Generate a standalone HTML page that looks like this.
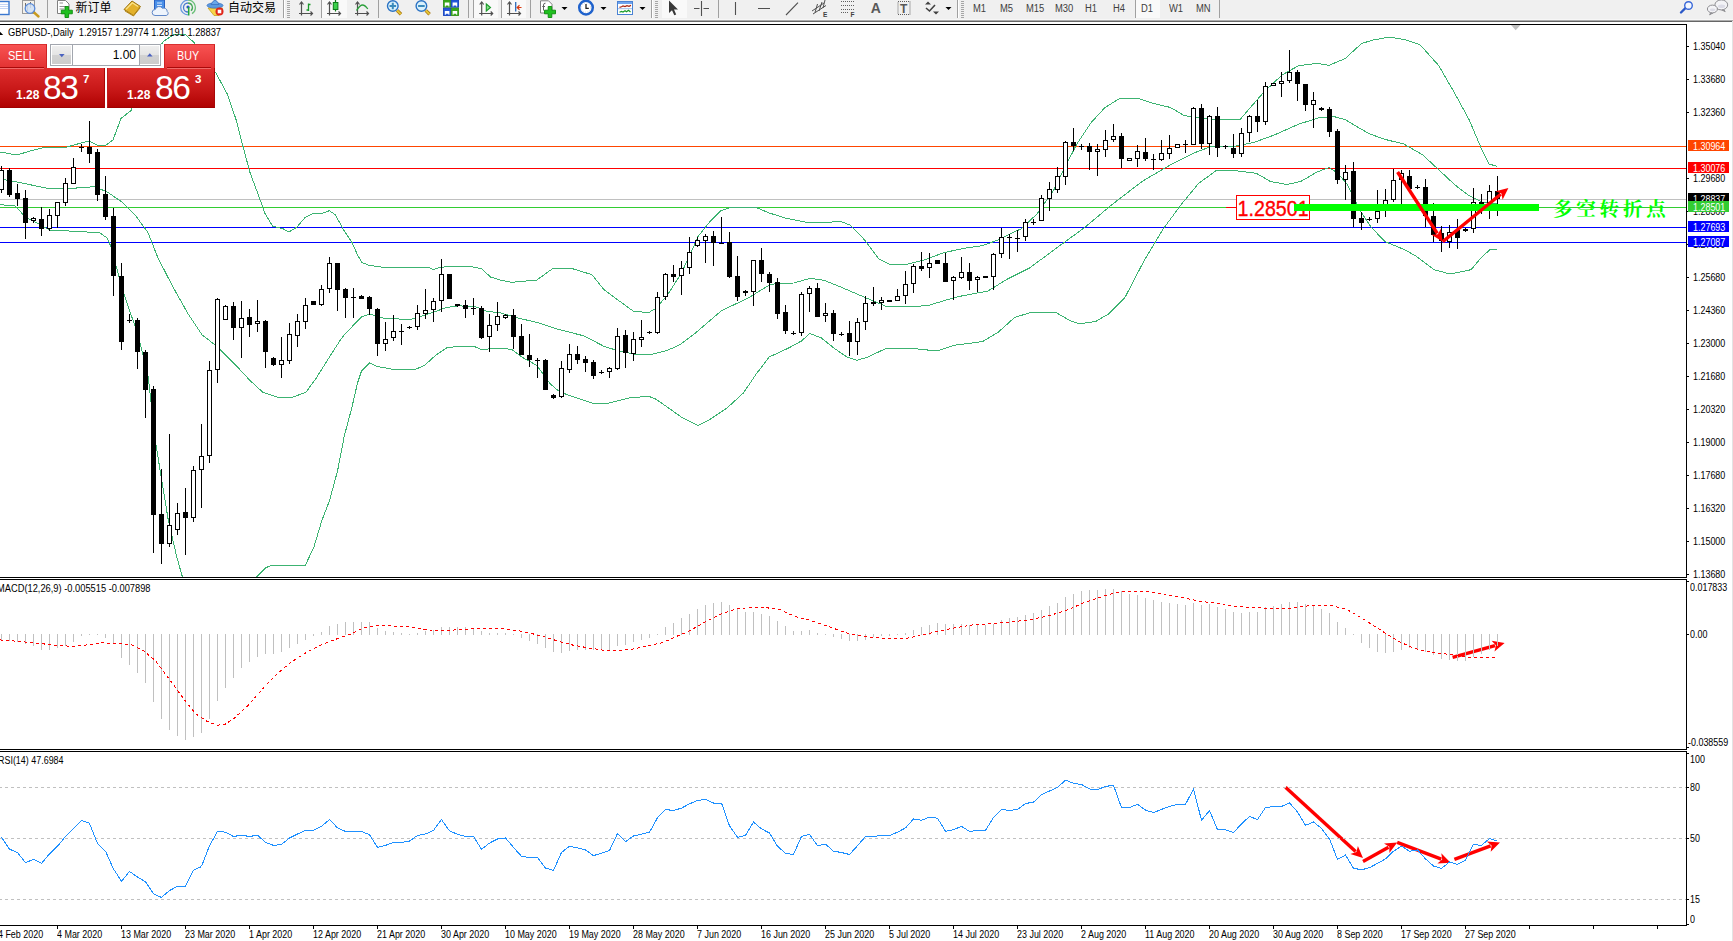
<!DOCTYPE html>
<html><head><meta charset="utf-8"><title>GBPUSD Daily</title><style>
*{box-sizing:border-box;margin:0;padding:0}
html,body{width:1733px;height:941px;overflow:hidden;background:#fff}
body{font-family:"Liberation Sans","Noto Sans CJK SC",sans-serif;}
#root{position:relative;width:1733px;height:941px;overflow:hidden;background:#fff}
.ax{position:absolute;font-size:10px;line-height:11px;height:11px;white-space:nowrap;color:#000;transform-origin:0 0;transform:scaleX(.893)}
.info{transform:scaleX(.93)}
.pb{position:absolute;left:1688px;width:41px;height:11px;color:#fff;font-size:10px;line-height:11px}
.pb span{position:absolute;left:5px;top:.6px;transform-origin:0 0;transform:scaleX(.893)}
#tb{position:absolute;left:0;top:0;width:1733px;height:22px;background:#f0f0f0}
#tb .ln0{position:absolute;left:0;top:19px;width:1733px;height:1px;background:#f7f7f7}
#tb .ln1{position:absolute;left:0;top:20px;width:1733px;height:1px;background:#adadad}
#tb .ln2{position:absolute;left:0;top:21px;width:1732px;height:1px;background:#666}
.redge{position:absolute;left:1732px;top:21px;width:1px;height:920px;background:#e3e3e3}
.cn{position:absolute;left:1553px;top:195.5px;font-family:"Liberation Serif","Noto Serif CJK SC",serif;font-weight:700;font-size:19.5px;line-height:28px;color:#00ff00;letter-spacing:3.8px;white-space:nowrap}
.lb{position:absolute;left:1236px;top:195px;width:74px;height:25px;border:1px solid #ff0000;background:#fff;color:#ff0000;font-size:21px;line-height:23px;text-align:center;letter-spacing:-0.5px;white-space:nowrap;overflow:hidden}
.lbl{position:absolute;left:1226px;top:207px;width:10px;height:1px;background:#ff0000}

#tb .t{position:absolute;top:0.5px;font-size:12px;line-height:14px;color:#000;white-space:nowrap;font-family:"Liberation Sans","Noto Sans CJK SC",sans-serif}
#tb .p{position:absolute;top:3px;font-size:10px;line-height:11px;color:#404040;white-space:nowrap;transform-origin:0 0;transform:scaleX(.94)}

#pn{position:absolute;left:0;top:44px;width:216px;height:64px}
#pn div{position:absolute}
.sb{top:0;height:24px;background:linear-gradient(#f85252,#e23232);border-top:1px solid #d83030;color:#fff;font-size:12.5px;line-height:14px}
.sb span{position:absolute;top:4px;transform-origin:0 0;white-space:nowrap}
.pp{top:24px;height:40px;background:linear-gradient(#de2e2e,#c81818 55%,#b00202);border-right:1px solid #a80808;border-bottom:1px solid #a00000;color:#fff}
.pp span{position:absolute;white-space:nowrap;line-height:1}
.pp .s{font-weight:700;font-size:12px;letter-spacing:0}
.pp .b{font-size:33.5px;letter-spacing:-1.5px}
.pp .u{font-weight:700;font-size:11.5px}
.vb{left:50px;top:0;width:111px;height:22px;background:#fff;border:1px solid #a2a6ae}
.vbtn{top:1px;width:19px;height:18px;background:linear-gradient(#efefef,#e4e4e4 50%,#d2d2d2 51%,#cdcdcd)}
.vt{right:24px;top:3px;font-size:12px;line-height:14px;color:#000}
</style></head>
<body><div id="root">
<svg id="chart" width="1733" height="941" viewBox="0 0 1733 941" style="position:absolute;left:0;top:0" shape-rendering="crispEdges">
<defs><clipPath id="cm"><rect x="0" y="25" width="1686" height="552"/></clipPath><clipPath id="c2"><rect x="0" y="580" width="1686" height="169"/></clipPath><clipPath id="c3"><rect x="0" y="752" width="1686" height="173"/></clipPath></defs>
<g fill="#000">
<rect x="0" y="24" width="1687" height="1"/>
<rect x="1686" y="24" width="1" height="902"/>
<rect x="0" y="577" width="1687" height="1"/>
<rect x="0" y="579" width="1687" height="1"/>
<rect x="0" y="749" width="1687" height="1"/>
<rect x="0" y="751" width="1687" height="1"/>
<rect x="0" y="925" width="1687" height="1"/>
</g>
<rect x="1686" y="578" width="1" height="1" fill="#fff"/><rect x="1686" y="750" width="1" height="1" fill="#fff"/>
<g fill="#000">
<rect x="1687" y="46" width="2" height="1"/>
<rect x="1687" y="79" width="2" height="1"/>
<rect x="1687" y="112" width="2" height="1"/>
<rect x="1687" y="178" width="2" height="1"/>
<rect x="1687" y="211" width="2" height="1"/>
<rect x="1687" y="244" width="2" height="1"/>
<rect x="1687" y="277" width="2" height="1"/>
<rect x="1687" y="310" width="2" height="1"/>
<rect x="1687" y="343" width="2" height="1"/>
<rect x="1687" y="376" width="2" height="1"/>
<rect x="1687" y="409" width="2" height="1"/>
<rect x="1687" y="442" width="2" height="1"/>
<rect x="1687" y="475" width="2" height="1"/>
<rect x="1687" y="508" width="2" height="1"/>
<rect x="1687" y="541" width="2" height="1"/>
<rect x="1687" y="574" width="2" height="1"/>
<rect x="1687" y="581" width="2" height="1"/>
<rect x="1687" y="634" width="2" height="1"/>
<rect x="1687" y="747" width="2" height="1"/>
<rect x="1687" y="753" width="2" height="1"/>
<rect x="1687" y="787" width="2" height="1"/>
<rect x="1687" y="838" width="2" height="1"/>
<rect x="1687" y="899" width="2" height="1"/>
<rect x="1687" y="924" width="2" height="1"/>
<rect x="57" y="926" width="1" height="3"/>
<rect x="121" y="926" width="1" height="3"/>
<rect x="185" y="926" width="1" height="3"/>
<rect x="249" y="926" width="1" height="3"/>
<rect x="313" y="926" width="1" height="3"/>
<rect x="377" y="926" width="1" height="3"/>
<rect x="441" y="926" width="1" height="3"/>
<rect x="505" y="926" width="1" height="3"/>
<rect x="569" y="926" width="1" height="3"/>
<rect x="633" y="926" width="1" height="3"/>
<rect x="697" y="926" width="1" height="3"/>
<rect x="761" y="926" width="1" height="3"/>
<rect x="825" y="926" width="1" height="3"/>
<rect x="889" y="926" width="1" height="3"/>
<rect x="953" y="926" width="1" height="3"/>
<rect x="1017" y="926" width="1" height="3"/>
<rect x="1081" y="926" width="1" height="3"/>
<rect x="1145" y="926" width="1" height="3"/>
<rect x="1209" y="926" width="1" height="3"/>
<rect x="1273" y="926" width="1" height="3"/>
<rect x="1337" y="926" width="1" height="3"/>
<rect x="1401" y="926" width="1" height="3"/>
<rect x="1465" y="926" width="1" height="3"/>
<rect x="1529" y="926" width="1" height="3"/>
<rect x="1593" y="926" width="1" height="3"/>
<rect x="1657" y="926" width="1" height="3"/>
</g>
<g clip-path="url(#cm)">
<rect x="0" y="146" width="1686" height="1" fill="#ff4500"/>
<rect x="0" y="168" width="1686" height="1" fill="#ff0000"/>
<rect x="0" y="199" width="1686" height="1" fill="#c0c0c0"/>
<rect x="0" y="207" width="1686" height="1" fill="#32cd32"/>
<rect x="0" y="227" width="1686" height="1" fill="#0000ff"/>
<rect x="0" y="242" width="1686" height="1" fill="#0000ff"/>
<polyline points="0.0,152.0 17.0,155.0 30.0,151.0 46.0,147.0 67.0,147.0 81.0,143.0 89.0,141.0 97.0,145.0 105.0,146.0 113.0,140.0 121.0,118.5 131.0,110.5 140.0,85.0 150.0,60.0 163.4,41.5 174.5,34.0 184.6,34.0 193.0,41.5 205.0,55.0 217.0,75.0 227.6,94.6 236.0,119.5 242.8,145.8 249.8,172.0 258.0,194.0 265.0,213.5 272.4,226.0 283.0,228.7 289.0,232.0 296.7,227.3 305.0,217.6 313.3,213.5 323.0,213.0 329.4,210.7 335.4,214.9 343.7,230.0 352.0,242.5 357.6,255.0 362.0,262.6 369.0,265.3 382.7,267.3 427.7,267.3 433.4,269.4 440.3,267.3 454.0,266.3 469.0,266.3 481.6,268.6 490.4,277.0 500.0,280.0 511.7,282.3 536.8,280.0 553.5,268.0 570.3,268.0 592.0,274.7 603.7,289.3 617.0,299.3 633.9,311.6 649.0,312.4 655.6,308.5 667.3,295.2 680.7,274.2 688.4,258.5 698.0,236.5 711.0,220.4 720.8,210.7 730.5,207.5 756.3,207.5 769.2,213.0 785.4,218.0 808.0,222.6 824.0,222.6 840.3,221.4 850.0,225.0 863.0,238.0 879.0,259.0 888.8,264.0 908.0,264.0 924.3,260.0 943.7,252.7 963.0,248.5 982.5,245.6 998.6,239.8 1014.8,231.7 1020.8,229.0 1037.0,214.0 1053.5,190.6 1065.0,167.0 1077.0,143.8 1091.0,122.7 1105.0,107.5 1119.0,98.9 1137.7,98.2 1151.8,102.9 1170.5,107.5 1184.5,115.7 1193.9,116.9 1207.9,119.2 1236.0,120.0 1240.0,119.5 1263.4,92.6 1282.0,75.0 1298.5,65.7 1317.0,63.4 1329.0,65.3 1345.0,58.7 1361.6,43.5 1373.0,40.0 1390.0,37.0 1406.0,40.0 1420.0,44.7 1438.8,65.7 1455.0,93.8 1469.0,119.5 1481.0,147.6 1489.0,164.0 1497.0,166.3" fill="none" stroke="#3cb371" stroke-width="1"/>
<polyline points="0.0,179.0 15.0,181.6 46.0,188.0 76.5,188.0 94.0,186.7 107.0,191.8 122.0,202.0 135.0,214.8 148.0,232.7 158.0,258.0 173.0,287.0 188.4,314.4 202.0,334.8 217.3,346.7 236.0,365.4 250.0,380.5 263.0,392.4 276.6,397.0 290.0,398.0 305.8,392.4 316.4,377.8 329.7,356.6 340.0,340.6 345.0,334.0 361.4,317.0 369.5,314.0 384.0,318.3 410.0,319.5 425.0,315.0 446.5,307.6 457.8,305.8 475.3,306.6 486.6,311.4 500.0,312.7 516.7,317.7 538.5,322.8 558.6,329.5 583.7,335.8 603.7,346.2 617.0,350.4 633.9,354.0 650.6,354.6 667.3,350.4 680.0,344.7 696.7,332.0 721.8,310.4 747.0,298.7 770.4,284.4 780.4,283.3 793.8,283.0 810.5,278.3 824.0,280.3 840.6,287.0 864.0,297.0 885.8,306.2 905.9,306.7 927.7,305.7 947.7,299.5 960.0,296.3 988.0,291.0 1006.8,279.4 1030.0,267.7 1053.5,250.2 1084.0,228.0 1112.0,204.6 1142.4,181.2 1170.5,164.8 1193.9,153.0 1212.6,146.0 1236.0,146.0 1254.0,142.4 1275.0,134.7 1298.5,124.2 1319.5,117.6 1333.5,116.5 1345.0,119.5 1368.6,133.5 1385.0,139.4 1403.7,144.0 1422.4,154.6 1438.8,169.8 1455.0,185.0 1469.0,195.5 1483.0,202.5 1497.0,203.7" fill="none" stroke="#3cb371" stroke-width="1"/>
<polyline points="0.0,204.6 15.0,206.0 25.5,217.0 50.0,230.0 76.5,231.4 99.5,232.7 107.0,237.8 111.0,246.7 116.0,265.8 122.4,288.8 130.0,311.7 137.4,333.0 147.6,372.0 156.0,445.0 168.0,518.5 176.5,556.0 182.7,578.0 190.0,610.0 250.0,610.0 256.6,577.0 266.0,567.6 272.6,565.0 301.8,565.0 305.0,565.8 313.7,547.7 321.7,521.0 329.7,500.0 337.6,470.7 344.3,436.0 352.0,407.0 357.5,383.0 361.5,371.0 369.5,363.0 377.5,366.6 396.0,369.8 414.6,369.8 425.0,365.0 436.0,355.0 446.5,348.0 457.0,346.5 474.4,346.5 482.3,350.0 490.3,348.6 500.0,348.0 511.7,349.5 521.8,357.0 536.8,365.4 550.2,383.8 556.9,389.7 566.9,394.7 580.3,399.2 595.4,404.0 608.8,403.0 630.5,397.6 649.0,396.4 655.6,399.0 665.8,406.0 682.0,417.5 698.0,425.6 707.9,420.7 727.2,407.8 743.4,393.0 756.3,373.9 769.2,357.0 788.6,348.0 801.6,340.9 809.6,333.5 821.0,337.7 833.9,348.0 846.8,357.0 856.5,360.3 866.2,357.7 885.6,348.7 914.6,348.7 937.3,351.0 953.4,345.4 982.5,341.6 998.6,331.9 1014.8,317.3 1031.0,312.5 1056.8,313.0 1069.7,320.5 1079.4,323.8 1095.6,321.5 1108.5,314.0 1124.7,298.0 1144.0,260.8 1163.4,228.5 1182.8,202.6 1198.5,183.5 1217.0,170.0 1236.0,170.7 1256.4,173.3 1270.4,181.5 1286.8,184.5 1300.8,181.5 1317.0,172.0 1329.0,167.5 1338.0,173.3 1347.6,185.0 1361.6,213.0 1371.0,227.0 1385.0,241.6 1403.7,249.3 1416.0,256.0 1434.0,269.7 1450.0,274.0 1471.0,269.7 1481.0,258.0 1489.8,249.7 1496.6,249.3" fill="none" stroke="#3cb371" stroke-width="1"/>
<g fill="#000">
<rect x="1" y="166" width="1" height="27"/>
<rect x="-1" y="170" width="5" height="20"/>
<rect x="9" y="168" width="1" height="29"/>
<rect x="7" y="170" width="5" height="25"/>
<rect x="17" y="184" width="1" height="22"/>
<rect x="15" y="193" width="5" height="6"/>
<rect x="25" y="190" width="1" height="49"/>
<rect x="23" y="198" width="5" height="25"/>
<rect x="33" y="217" width="1" height="6"/>
<rect x="31" y="218" width="5" height="3"/>
<rect x="41" y="207" width="1" height="29"/>
<rect x="39" y="219" width="5" height="10"/>
<rect x="49" y="209" width="1" height="22"/>
<rect x="47" y="215" width="5" height="14"/>
<rect x="57" y="202" width="1" height="26"/>
<rect x="55" y="202" width="5" height="14"/>
<rect x="65" y="178" width="1" height="28"/>
<rect x="63" y="183" width="5" height="20"/>
<rect x="73" y="158" width="1" height="26"/>
<rect x="71" y="167" width="5" height="17"/>
<rect x="81" y="144" width="1" height="8"/>
<rect x="79" y="147" width="5" height="1"/>
<rect x="89" y="121" width="1" height="42"/>
<rect x="87" y="147" width="5" height="7"/>
<rect x="97" y="149" width="1" height="52"/>
<rect x="95" y="152" width="5" height="43"/>
<rect x="105" y="176" width="1" height="44"/>
<rect x="103" y="194" width="5" height="23"/>
<rect x="113" y="208" width="1" height="88"/>
<rect x="111" y="216" width="5" height="60"/>
<rect x="121" y="263" width="1" height="87"/>
<rect x="119" y="276" width="5" height="66"/>
<rect x="129" y="314" width="1" height="9"/>
<rect x="127" y="320" width="5" height="1"/>
<rect x="137" y="318" width="1" height="51"/>
<rect x="135" y="320" width="5" height="32"/>
<rect x="145" y="350" width="1" height="68"/>
<rect x="143" y="352" width="5" height="38"/>
<rect x="153" y="386" width="1" height="167"/>
<rect x="151" y="389" width="5" height="126"/>
<rect x="161" y="469" width="1" height="95"/>
<rect x="159" y="514" width="5" height="30"/>
<rect x="169" y="434" width="1" height="113"/>
<rect x="167" y="525" width="5" height="19"/>
<rect x="177" y="503" width="1" height="32"/>
<rect x="175" y="513" width="5" height="17"/>
<rect x="185" y="488" width="1" height="67"/>
<rect x="183" y="512" width="5" height="6"/>
<rect x="193" y="466" width="1" height="56"/>
<rect x="191" y="470" width="5" height="48"/>
<rect x="201" y="424" width="1" height="84"/>
<rect x="199" y="456" width="5" height="14"/>
<rect x="209" y="361" width="1" height="102"/>
<rect x="207" y="370" width="5" height="86"/>
<rect x="217" y="298" width="1" height="85"/>
<rect x="215" y="299" width="5" height="71"/>
<rect x="225" y="305" width="1" height="15"/>
<rect x="223" y="306" width="5" height="14"/>
<rect x="233" y="302" width="1" height="38"/>
<rect x="231" y="306" width="5" height="22"/>
<rect x="241" y="301" width="1" height="57"/>
<rect x="239" y="318" width="5" height="10"/>
<rect x="249" y="309" width="1" height="28"/>
<rect x="247" y="317" width="5" height="8"/>
<rect x="257" y="300" width="1" height="32"/>
<rect x="255" y="321" width="5" height="3"/>
<rect x="265" y="320" width="1" height="48"/>
<rect x="263" y="321" width="5" height="31"/>
<rect x="273" y="357" width="1" height="9"/>
<rect x="271" y="358" width="5" height="7"/>
<rect x="281" y="337" width="1" height="41"/>
<rect x="279" y="360" width="5" height="5"/>
<rect x="289" y="323" width="1" height="41"/>
<rect x="287" y="334" width="5" height="27"/>
<rect x="297" y="314" width="1" height="33"/>
<rect x="295" y="321" width="5" height="15"/>
<rect x="305" y="298" width="1" height="31"/>
<rect x="303" y="305" width="5" height="17"/>
<rect x="313" y="301" width="1" height="4"/>
<rect x="311" y="301" width="5" height="4"/>
<rect x="321" y="285" width="1" height="21"/>
<rect x="319" y="289" width="5" height="16"/>
<rect x="329" y="257" width="1" height="36"/>
<rect x="327" y="263" width="5" height="26"/>
<rect x="337" y="263" width="1" height="48"/>
<rect x="335" y="263" width="5" height="27"/>
<rect x="345" y="288" width="1" height="30"/>
<rect x="343" y="289" width="5" height="9"/>
<rect x="353" y="288" width="1" height="30"/>
<rect x="351" y="297" width="5" height="1"/>
<rect x="361" y="295" width="1" height="4"/>
<rect x="359" y="296" width="5" height="3"/>
<rect x="369" y="296" width="1" height="19"/>
<rect x="367" y="297" width="5" height="12"/>
<rect x="377" y="308" width="1" height="48"/>
<rect x="375" y="309" width="5" height="35"/>
<rect x="385" y="322" width="1" height="29"/>
<rect x="383" y="339" width="5" height="5"/>
<rect x="393" y="315" width="1" height="26"/>
<rect x="391" y="331" width="5" height="7"/>
<rect x="401" y="324" width="1" height="21"/>
<rect x="399" y="331" width="5" height="1"/>
<rect x="409" y="326" width="1" height="3"/>
<rect x="407" y="327" width="5" height="1"/>
<rect x="417" y="305" width="1" height="25"/>
<rect x="415" y="313" width="5" height="14"/>
<rect x="425" y="289" width="1" height="30"/>
<rect x="423" y="310" width="5" height="4"/>
<rect x="433" y="298" width="1" height="24"/>
<rect x="431" y="301" width="5" height="9"/>
<rect x="441" y="259" width="1" height="53"/>
<rect x="439" y="274" width="5" height="27"/>
<rect x="449" y="274" width="1" height="25"/>
<rect x="447" y="274" width="5" height="25"/>
<rect x="457" y="304" width="1" height="3"/>
<rect x="455" y="304" width="5" height="2"/>
<rect x="465" y="300" width="1" height="18"/>
<rect x="463" y="305" width="5" height="4"/>
<rect x="473" y="298" width="1" height="17"/>
<rect x="471" y="308" width="5" height="1"/>
<rect x="481" y="306" width="1" height="33"/>
<rect x="479" y="308" width="5" height="30"/>
<rect x="489" y="314" width="1" height="38"/>
<rect x="487" y="325" width="5" height="12"/>
<rect x="497" y="302" width="1" height="29"/>
<rect x="495" y="316" width="5" height="9"/>
<rect x="505" y="314" width="1" height="5"/>
<rect x="503" y="315" width="5" height="3"/>
<rect x="513" y="309" width="1" height="40"/>
<rect x="511" y="315" width="5" height="22"/>
<rect x="521" y="324" width="1" height="31"/>
<rect x="519" y="336" width="5" height="19"/>
<rect x="529" y="334" width="1" height="33"/>
<rect x="527" y="355" width="5" height="5"/>
<rect x="537" y="358" width="1" height="20"/>
<rect x="535" y="360" width="5" height="1"/>
<rect x="545" y="359" width="1" height="31"/>
<rect x="543" y="360" width="5" height="30"/>
<rect x="553" y="394" width="1" height="5"/>
<rect x="551" y="395" width="5" height="3"/>
<rect x="561" y="361" width="1" height="37"/>
<rect x="559" y="368" width="5" height="29"/>
<rect x="569" y="344" width="1" height="29"/>
<rect x="567" y="354" width="5" height="16"/>
<rect x="577" y="346" width="1" height="18"/>
<rect x="575" y="354" width="5" height="6"/>
<rect x="585" y="356" width="1" height="16"/>
<rect x="583" y="359" width="5" height="4"/>
<rect x="593" y="360" width="1" height="19"/>
<rect x="591" y="362" width="5" height="14"/>
<rect x="601" y="370" width="1" height="4"/>
<rect x="599" y="372" width="5" height="1"/>
<rect x="609" y="367" width="1" height="11"/>
<rect x="607" y="368" width="5" height="4"/>
<rect x="617" y="328" width="1" height="42"/>
<rect x="615" y="336" width="5" height="33"/>
<rect x="625" y="330" width="1" height="38"/>
<rect x="623" y="335" width="5" height="18"/>
<rect x="633" y="332" width="1" height="29"/>
<rect x="631" y="339" width="5" height="15"/>
<rect x="641" y="320" width="1" height="27"/>
<rect x="639" y="337" width="5" height="3"/>
<rect x="649" y="331" width="1" height="3"/>
<rect x="647" y="332" width="5" height="1"/>
<rect x="657" y="292" width="1" height="42"/>
<rect x="655" y="297" width="5" height="36"/>
<rect x="665" y="273" width="1" height="27"/>
<rect x="663" y="274" width="5" height="23"/>
<rect x="673" y="265" width="1" height="17"/>
<rect x="671" y="274" width="5" height="3"/>
<rect x="681" y="261" width="1" height="34"/>
<rect x="679" y="268" width="5" height="8"/>
<rect x="689" y="237" width="1" height="37"/>
<rect x="687" y="252" width="5" height="16"/>
<rect x="697" y="237" width="1" height="10"/>
<rect x="695" y="240" width="5" height="6"/>
<rect x="705" y="234" width="1" height="29"/>
<rect x="703" y="236" width="5" height="5"/>
<rect x="713" y="231" width="1" height="35"/>
<rect x="711" y="236" width="5" height="7"/>
<rect x="721" y="217" width="1" height="26"/>
<rect x="719" y="243" width="5" height="1"/>
<rect x="729" y="232" width="1" height="46"/>
<rect x="727" y="242" width="5" height="35"/>
<rect x="737" y="256" width="1" height="45"/>
<rect x="735" y="276" width="5" height="21"/>
<rect x="745" y="290" width="1" height="6"/>
<rect x="743" y="291" width="5" height="2"/>
<rect x="753" y="260" width="1" height="46"/>
<rect x="751" y="260" width="5" height="32"/>
<rect x="761" y="248" width="1" height="34"/>
<rect x="759" y="260" width="5" height="14"/>
<rect x="769" y="272" width="1" height="20"/>
<rect x="767" y="274" width="5" height="9"/>
<rect x="777" y="278" width="1" height="41"/>
<rect x="775" y="282" width="5" height="32"/>
<rect x="785" y="305" width="1" height="29"/>
<rect x="783" y="312" width="5" height="19"/>
<rect x="793" y="331" width="1" height="4"/>
<rect x="791" y="333" width="5" height="1"/>
<rect x="801" y="292" width="1" height="44"/>
<rect x="799" y="294" width="5" height="39"/>
<rect x="809" y="286" width="1" height="26"/>
<rect x="807" y="288" width="5" height="6"/>
<rect x="817" y="283" width="1" height="34"/>
<rect x="815" y="288" width="5" height="29"/>
<rect x="825" y="303" width="1" height="19"/>
<rect x="823" y="313" width="5" height="3"/>
<rect x="833" y="310" width="1" height="31"/>
<rect x="831" y="313" width="5" height="21"/>
<rect x="841" y="332" width="1" height="4"/>
<rect x="839" y="334" width="5" height="1"/>
<rect x="849" y="321" width="1" height="35"/>
<rect x="847" y="333" width="5" height="9"/>
<rect x="857" y="318" width="1" height="37"/>
<rect x="855" y="322" width="5" height="20"/>
<rect x="865" y="296" width="1" height="34"/>
<rect x="863" y="303" width="5" height="19"/>
<rect x="873" y="287" width="1" height="19"/>
<rect x="871" y="302" width="5" height="2"/>
<rect x="881" y="297" width="1" height="13"/>
<rect x="879" y="300" width="5" height="3"/>
<rect x="889" y="300" width="1" height="2"/>
<rect x="887" y="300" width="5" height="2"/>
<rect x="897" y="289" width="1" height="12"/>
<rect x="895" y="296" width="5" height="5"/>
<rect x="905" y="271" width="1" height="33"/>
<rect x="903" y="284" width="5" height="12"/>
<rect x="913" y="264" width="1" height="29"/>
<rect x="911" y="266" width="5" height="18"/>
<rect x="921" y="252" width="1" height="19"/>
<rect x="919" y="266" width="5" height="3"/>
<rect x="929" y="253" width="1" height="25"/>
<rect x="927" y="263" width="5" height="5"/>
<rect x="937" y="260" width="1" height="4"/>
<rect x="935" y="260" width="5" height="4"/>
<rect x="945" y="253" width="1" height="29"/>
<rect x="943" y="263" width="5" height="19"/>
<rect x="953" y="276" width="1" height="24"/>
<rect x="951" y="277" width="5" height="4"/>
<rect x="961" y="257" width="1" height="22"/>
<rect x="959" y="272" width="5" height="6"/>
<rect x="969" y="263" width="1" height="27"/>
<rect x="967" y="272" width="5" height="9"/>
<rect x="977" y="276" width="1" height="16"/>
<rect x="975" y="277" width="5" height="3"/>
<rect x="985" y="276" width="1" height="2"/>
<rect x="983" y="276" width="5" height="2"/>
<rect x="993" y="253" width="1" height="37"/>
<rect x="991" y="254" width="5" height="23"/>
<rect x="1001" y="228" width="1" height="30"/>
<rect x="999" y="237" width="5" height="17"/>
<rect x="1009" y="234" width="1" height="25"/>
<rect x="1007" y="237" width="5" height="1"/>
<rect x="1017" y="230" width="1" height="22"/>
<rect x="1015" y="238" width="5" height="1"/>
<rect x="1025" y="219" width="1" height="22"/>
<rect x="1023" y="222" width="5" height="15"/>
<rect x="1033" y="219" width="1" height="6"/>
<rect x="1031" y="222" width="5" height="1"/>
<rect x="1041" y="195" width="1" height="26"/>
<rect x="1039" y="198" width="5" height="23"/>
<rect x="1049" y="182" width="1" height="29"/>
<rect x="1047" y="189" width="5" height="10"/>
<rect x="1057" y="167" width="1" height="26"/>
<rect x="1055" y="176" width="5" height="14"/>
<rect x="1065" y="141" width="1" height="44"/>
<rect x="1063" y="142" width="5" height="35"/>
<rect x="1073" y="128" width="1" height="23"/>
<rect x="1071" y="142" width="5" height="4"/>
<rect x="1081" y="144" width="1" height="6"/>
<rect x="1079" y="146" width="5" height="1"/>
<rect x="1089" y="143" width="1" height="27"/>
<rect x="1087" y="146" width="5" height="6"/>
<rect x="1097" y="144" width="1" height="32"/>
<rect x="1095" y="149" width="5" height="3"/>
<rect x="1105" y="130" width="1" height="27"/>
<rect x="1103" y="140" width="5" height="10"/>
<rect x="1113" y="124" width="1" height="18"/>
<rect x="1111" y="136" width="5" height="4"/>
<rect x="1121" y="133" width="1" height="35"/>
<rect x="1119" y="136" width="5" height="23"/>
<rect x="1129" y="158" width="1" height="3"/>
<rect x="1127" y="158" width="5" height="3"/>
<rect x="1137" y="145" width="1" height="22"/>
<rect x="1135" y="151" width="5" height="8"/>
<rect x="1145" y="138" width="1" height="23"/>
<rect x="1143" y="152" width="5" height="7"/>
<rect x="1153" y="154" width="1" height="16"/>
<rect x="1151" y="159" width="5" height="1"/>
<rect x="1161" y="140" width="1" height="21"/>
<rect x="1159" y="153" width="5" height="7"/>
<rect x="1169" y="135" width="1" height="24"/>
<rect x="1167" y="148" width="5" height="6"/>
<rect x="1177" y="144" width="1" height="4"/>
<rect x="1175" y="144" width="5" height="4"/>
<rect x="1185" y="140" width="1" height="13"/>
<rect x="1183" y="144" width="5" height="1"/>
<rect x="1193" y="107" width="1" height="38"/>
<rect x="1191" y="108" width="5" height="37"/>
<rect x="1201" y="104" width="1" height="45"/>
<rect x="1199" y="108" width="5" height="36"/>
<rect x="1209" y="115" width="1" height="40"/>
<rect x="1207" y="116" width="5" height="28"/>
<rect x="1217" y="107" width="1" height="50"/>
<rect x="1215" y="116" width="5" height="32"/>
<rect x="1225" y="145" width="1" height="4"/>
<rect x="1223" y="146" width="5" height="1"/>
<rect x="1233" y="134" width="1" height="24"/>
<rect x="1231" y="148" width="5" height="6"/>
<rect x="1241" y="128" width="1" height="29"/>
<rect x="1239" y="133" width="5" height="21"/>
<rect x="1249" y="115" width="1" height="27"/>
<rect x="1247" y="116" width="5" height="17"/>
<rect x="1257" y="100" width="1" height="32"/>
<rect x="1255" y="116" width="5" height="6"/>
<rect x="1265" y="82" width="1" height="43"/>
<rect x="1263" y="86" width="5" height="36"/>
<rect x="1273" y="83" width="1" height="2"/>
<rect x="1271" y="83" width="5" height="3"/>
<rect x="1281" y="72" width="1" height="25"/>
<rect x="1279" y="81" width="5" height="3"/>
<rect x="1289" y="50" width="1" height="33"/>
<rect x="1287" y="72" width="5" height="9"/>
<rect x="1297" y="70" width="1" height="31"/>
<rect x="1295" y="72" width="5" height="12"/>
<rect x="1305" y="84" width="1" height="27"/>
<rect x="1303" y="84" width="5" height="21"/>
<rect x="1313" y="92" width="1" height="36"/>
<rect x="1311" y="100" width="5" height="5"/>
<rect x="1321" y="107" width="1" height="4"/>
<rect x="1319" y="108" width="5" height="2"/>
<rect x="1329" y="107" width="1" height="30"/>
<rect x="1327" y="109" width="5" height="23"/>
<rect x="1337" y="129" width="1" height="55"/>
<rect x="1335" y="131" width="5" height="49"/>
<rect x="1345" y="165" width="1" height="35"/>
<rect x="1343" y="172" width="5" height="8"/>
<rect x="1353" y="162" width="1" height="65"/>
<rect x="1351" y="171" width="5" height="48"/>
<rect x="1361" y="212" width="1" height="18"/>
<rect x="1359" y="218" width="5" height="5"/>
<rect x="1369" y="217" width="1" height="4"/>
<rect x="1367" y="219" width="5" height="1"/>
<rect x="1377" y="190" width="1" height="33"/>
<rect x="1375" y="211" width="5" height="8"/>
<rect x="1385" y="189" width="1" height="28"/>
<rect x="1383" y="200" width="5" height="11"/>
<rect x="1393" y="169" width="1" height="33"/>
<rect x="1391" y="180" width="5" height="20"/>
<rect x="1401" y="170" width="1" height="34"/>
<rect x="1399" y="173" width="5" height="7"/>
<rect x="1409" y="170" width="1" height="19"/>
<rect x="1407" y="176" width="5" height="13"/>
<rect x="1417" y="185" width="1" height="4"/>
<rect x="1415" y="187" width="5" height="1"/>
<rect x="1425" y="179" width="1" height="48"/>
<rect x="1423" y="187" width="5" height="29"/>
<rect x="1433" y="203" width="1" height="39"/>
<rect x="1431" y="216" width="5" height="19"/>
<rect x="1441" y="226" width="1" height="26"/>
<rect x="1439" y="233" width="5" height="8"/>
<rect x="1449" y="225" width="1" height="23"/>
<rect x="1447" y="232" width="5" height="10"/>
<rect x="1457" y="219" width="1" height="30"/>
<rect x="1455" y="230" width="5" height="8"/>
<rect x="1465" y="228" width="1" height="4"/>
<rect x="1463" y="229" width="5" height="2"/>
<rect x="1473" y="188" width="1" height="45"/>
<rect x="1471" y="202" width="5" height="27"/>
<rect x="1481" y="194" width="1" height="20"/>
<rect x="1479" y="202" width="5" height="2"/>
<rect x="1489" y="185" width="1" height="34"/>
<rect x="1487" y="191" width="5" height="12"/>
<rect x="1497" y="176" width="1" height="40"/>
<rect x="1495" y="191" width="5" height="8"/>
</g>
<g fill="#fff"><rect x="0" y="171" width="3" height="18"/><rect x="32" y="219" width="3" height="1"/><rect x="48" y="216" width="3" height="12"/><rect x="56" y="203" width="3" height="12"/><rect x="64" y="184" width="3" height="18"/><rect x="72" y="168" width="3" height="15"/><rect x="168" y="526" width="3" height="17"/><rect x="176" y="514" width="3" height="15"/><rect x="192" y="471" width="3" height="46"/><rect x="200" y="457" width="3" height="12"/><rect x="208" y="371" width="3" height="84"/><rect x="216" y="300" width="3" height="69"/><rect x="224" y="307" width="3" height="12"/><rect x="240" y="319" width="3" height="8"/><rect x="256" y="322" width="3" height="1"/><rect x="280" y="361" width="3" height="3"/><rect x="288" y="335" width="3" height="25"/><rect x="296" y="322" width="3" height="13"/><rect x="304" y="306" width="3" height="15"/><rect x="320" y="290" width="3" height="14"/><rect x="328" y="264" width="3" height="24"/><rect x="384" y="340" width="3" height="3"/><rect x="392" y="332" width="3" height="5"/><rect x="416" y="314" width="3" height="12"/><rect x="424" y="311" width="3" height="2"/><rect x="432" y="302" width="3" height="7"/><rect x="440" y="275" width="3" height="25"/><rect x="488" y="326" width="3" height="10"/><rect x="496" y="317" width="3" height="7"/><rect x="504" y="316" width="3" height="1"/><rect x="560" y="369" width="3" height="27"/><rect x="568" y="355" width="3" height="14"/><rect x="608" y="369" width="3" height="2"/><rect x="616" y="337" width="3" height="31"/><rect x="632" y="340" width="3" height="13"/><rect x="640" y="338" width="3" height="1"/><rect x="656" y="298" width="3" height="34"/><rect x="664" y="275" width="3" height="21"/><rect x="680" y="269" width="3" height="6"/><rect x="688" y="253" width="3" height="14"/><rect x="696" y="241" width="3" height="4"/><rect x="704" y="237" width="3" height="3"/><rect x="752" y="261" width="3" height="30"/><rect x="800" y="295" width="3" height="37"/><rect x="808" y="289" width="3" height="4"/><rect x="824" y="314" width="3" height="1"/><rect x="856" y="323" width="3" height="18"/><rect x="864" y="304" width="3" height="17"/><rect x="880" y="301" width="3" height="1"/><rect x="896" y="297" width="3" height="3"/><rect x="904" y="285" width="3" height="10"/><rect x="912" y="267" width="3" height="16"/><rect x="928" y="264" width="3" height="3"/><rect x="952" y="278" width="3" height="2"/><rect x="960" y="273" width="3" height="4"/><rect x="976" y="278" width="3" height="1"/><rect x="992" y="255" width="3" height="21"/><rect x="1000" y="238" width="3" height="15"/><rect x="1024" y="223" width="3" height="13"/><rect x="1040" y="199" width="3" height="21"/><rect x="1048" y="190" width="3" height="8"/><rect x="1056" y="177" width="3" height="12"/><rect x="1064" y="143" width="3" height="33"/><rect x="1096" y="150" width="3" height="1"/><rect x="1104" y="141" width="3" height="8"/><rect x="1112" y="137" width="3" height="2"/><rect x="1128" y="159" width="3" height="1"/><rect x="1136" y="152" width="3" height="6"/><rect x="1160" y="154" width="3" height="5"/><rect x="1168" y="149" width="3" height="4"/><rect x="1176" y="145" width="3" height="2"/><rect x="1192" y="109" width="3" height="35"/><rect x="1208" y="117" width="3" height="26"/><rect x="1240" y="134" width="3" height="19"/><rect x="1248" y="117" width="3" height="15"/><rect x="1264" y="87" width="3" height="34"/><rect x="1272" y="84" width="3" height="1"/><rect x="1280" y="82" width="3" height="1"/><rect x="1288" y="73" width="3" height="7"/><rect x="1312" y="101" width="3" height="3"/><rect x="1344" y="173" width="3" height="6"/><rect x="1376" y="212" width="3" height="6"/><rect x="1384" y="201" width="3" height="9"/><rect x="1392" y="181" width="3" height="18"/><rect x="1400" y="174" width="3" height="5"/><rect x="1448" y="233" width="3" height="8"/><rect x="1472" y="203" width="3" height="25"/><rect x="1488" y="192" width="3" height="10"/></g>
</g>
<rect x="1226" y="207" width="10" height="1" fill="#ff0000"/>
<rect x="1236.5" y="195.5" width="73" height="24" fill="#fff" stroke="#ff0000" stroke-width="1"/>
<text x="1237.6" y="216" font-family="Liberation Sans, sans-serif" font-size="22" fill="#ff0000" stroke="#ff0000" stroke-width="0.35" textLength="71" lengthAdjust="spacingAndGlyphs" shape-rendering="auto">1.28501</text>
<rect x="1294" y="204" width="245" height="7" fill="#00ff00"/>
<polygon points="1511,25 1520.5,25 1515.7,30.2" fill="#c0c0c0" shape-rendering="auto"/><polygon points="0,31.8 3.2,35 0,35" fill="#000" shape-rendering="auto"/>
<g shape-rendering="auto">
<line x1="1397.6" y1="172.0" x2="1437.3" y2="233.4" stroke="#ff0000" stroke-width="3.4"/><polygon points="1442.7,241.8 1431.6,234.7 1437.8,234.2 1440.8,228.7" fill="#ff0000"/>
<line x1="1442.7" y1="241.8" x2="1500.7" y2="194.2" stroke="#ff0000" stroke-width="3.4"/><polygon points="1508.4,187.9 1502.6,199.8 1501.4,193.6 1495.6,191.3" fill="#ff0000"/>
<line x1="1452.6" y1="657.3" x2="1495.0" y2="645.6" stroke="#ff0000" stroke-width="3.4"/><polygon points="1504.6,642.9 1494.5,651.4 1495.9,645.3 1491.6,640.8" fill="#ff0000"/>
<line x1="1285.5" y1="787.3" x2="1355.6" y2="851.4" stroke="#ff0000" stroke-width="3.4"/><polygon points="1363.0,858.1 1350.4,854.1 1356.4,852.0 1357.9,845.9" fill="#ff0000"/>
<line x1="1363.0" y1="861.4" x2="1388.5" y2="847.3" stroke="#ff0000" stroke-width="3.4"/><polygon points="1397.2,842.4 1389.4,853.0 1389.3,846.8 1384.0,843.4" fill="#ff0000"/>
<line x1="1397.2" y1="842.4" x2="1441.3" y2="859.1" stroke="#ff0000" stroke-width="3.4"/><polygon points="1450.6,862.7 1437.4,863.6 1442.2,859.5 1441.3,853.3" fill="#ff0000"/>
<line x1="1454.4" y1="859.4" x2="1490.6" y2="845.9" stroke="#ff0000" stroke-width="3.4"/><polygon points="1500.0,842.4 1490.7,851.7 1491.6,845.5 1486.8,841.4" fill="#ff0000"/>
</g>
<g clip-path="url(#c2)">
<g fill="#c0c0c0">
<rect x="1" y="634" width="1" height="6"/>
<rect x="9" y="634" width="1" height="7"/>
<rect x="17" y="634" width="1" height="8"/>
<rect x="25" y="634" width="1" height="10"/>
<rect x="33" y="634" width="1" height="12"/>
<rect x="41" y="634" width="1" height="16"/>
<rect x="49" y="634" width="1" height="16"/>
<rect x="57" y="634" width="1" height="14"/>
<rect x="65" y="634" width="1" height="12"/>
<rect x="73" y="634" width="1" height="8"/>
<rect x="81" y="634" width="1" height="2"/>
<rect x="89" y="634" width="1" height="1"/>
<rect x="97" y="634" width="1" height="1"/>
<rect x="105" y="634" width="1" height="4"/>
<rect x="113" y="634" width="1" height="9"/>
<rect x="121" y="634" width="1" height="24"/>
<rect x="129" y="634" width="1" height="31"/>
<rect x="137" y="634" width="1" height="39"/>
<rect x="145" y="634" width="1" height="49"/>
<rect x="153" y="634" width="1" height="68"/>
<rect x="161" y="634" width="1" height="85"/>
<rect x="169" y="634" width="1" height="96"/>
<rect x="177" y="634" width="1" height="102"/>
<rect x="185" y="634" width="1" height="106"/>
<rect x="193" y="634" width="1" height="103"/>
<rect x="201" y="634" width="1" height="99"/>
<rect x="209" y="634" width="1" height="85"/>
<rect x="217" y="634" width="1" height="67"/>
<rect x="225" y="634" width="1" height="54"/>
<rect x="233" y="634" width="1" height="44"/>
<rect x="241" y="634" width="1" height="34"/>
<rect x="249" y="634" width="1" height="28"/>
<rect x="257" y="634" width="1" height="23"/>
<rect x="265" y="634" width="1" height="20"/>
<rect x="273" y="634" width="1" height="20"/>
<rect x="281" y="634" width="1" height="18"/>
<rect x="289" y="634" width="1" height="14"/>
<rect x="297" y="634" width="1" height="10"/>
<rect x="305" y="634" width="1" height="6"/>
<rect x="313" y="634" width="1" height="2"/>
<rect x="321" y="632" width="1" height="3"/>
<rect x="329" y="626" width="1" height="9"/>
<rect x="337" y="624" width="1" height="11"/>
<rect x="345" y="622" width="1" height="13"/>
<rect x="353" y="622" width="1" height="13"/>
<rect x="361" y="622" width="1" height="13"/>
<rect x="369" y="622" width="1" height="13"/>
<rect x="377" y="628" width="1" height="7"/>
<rect x="385" y="631" width="1" height="4"/>
<rect x="393" y="632" width="1" height="3"/>
<rect x="401" y="633" width="1" height="2"/>
<rect x="409" y="634" width="1" height="1"/>
<rect x="417" y="633" width="1" height="2"/>
<rect x="425" y="631" width="1" height="4"/>
<rect x="433" y="630" width="1" height="5"/>
<rect x="441" y="627" width="1" height="8"/>
<rect x="449" y="627" width="1" height="8"/>
<rect x="457" y="627" width="1" height="8"/>
<rect x="465" y="627" width="1" height="8"/>
<rect x="473" y="628" width="1" height="7"/>
<rect x="481" y="631" width="1" height="4"/>
<rect x="489" y="633" width="1" height="2"/>
<rect x="497" y="633" width="1" height="2"/>
<rect x="505" y="633" width="1" height="2"/>
<rect x="513" y="634" width="1" height="1"/>
<rect x="521" y="634" width="1" height="4"/>
<rect x="529" y="634" width="1" height="7"/>
<rect x="537" y="634" width="1" height="10"/>
<rect x="545" y="634" width="1" height="14"/>
<rect x="553" y="634" width="1" height="18"/>
<rect x="561" y="634" width="1" height="19"/>
<rect x="569" y="634" width="1" height="17"/>
<rect x="577" y="634" width="1" height="16"/>
<rect x="585" y="634" width="1" height="16"/>
<rect x="593" y="634" width="1" height="16"/>
<rect x="601" y="634" width="1" height="16"/>
<rect x="609" y="634" width="1" height="16"/>
<rect x="617" y="634" width="1" height="12"/>
<rect x="625" y="634" width="1" height="11"/>
<rect x="633" y="634" width="1" height="8"/>
<rect x="641" y="634" width="1" height="6"/>
<rect x="649" y="634" width="1" height="4"/>
<rect x="657" y="634" width="1" height="1"/>
<rect x="665" y="627" width="1" height="8"/>
<rect x="673" y="623" width="1" height="12"/>
<rect x="681" y="618" width="1" height="17"/>
<rect x="689" y="614" width="1" height="21"/>
<rect x="697" y="609" width="1" height="26"/>
<rect x="705" y="605" width="1" height="30"/>
<rect x="713" y="603" width="1" height="32"/>
<rect x="721" y="602" width="1" height="33"/>
<rect x="729" y="605" width="1" height="30"/>
<rect x="737" y="609" width="1" height="26"/>
<rect x="745" y="612" width="1" height="23"/>
<rect x="753" y="612" width="1" height="23"/>
<rect x="761" y="614" width="1" height="21"/>
<rect x="769" y="616" width="1" height="19"/>
<rect x="777" y="621" width="1" height="14"/>
<rect x="785" y="626" width="1" height="9"/>
<rect x="793" y="631" width="1" height="4"/>
<rect x="801" y="631" width="1" height="4"/>
<rect x="809" y="630" width="1" height="5"/>
<rect x="817" y="633" width="1" height="2"/>
<rect x="825" y="634" width="1" height="1"/>
<rect x="833" y="634" width="1" height="3"/>
<rect x="841" y="634" width="1" height="5"/>
<rect x="849" y="634" width="1" height="7"/>
<rect x="857" y="634" width="1" height="7"/>
<rect x="865" y="634" width="1" height="6"/>
<rect x="873" y="634" width="1" height="3"/>
<rect x="881" y="634" width="1" height="2"/>
<rect x="889" y="634" width="1" height="2"/>
<rect x="897" y="634" width="1" height="1"/>
<rect x="905" y="633" width="1" height="2"/>
<rect x="913" y="630" width="1" height="5"/>
<rect x="921" y="627" width="1" height="8"/>
<rect x="929" y="625" width="1" height="10"/>
<rect x="937" y="623" width="1" height="12"/>
<rect x="945" y="624" width="1" height="11"/>
<rect x="953" y="624" width="1" height="11"/>
<rect x="961" y="624" width="1" height="11"/>
<rect x="969" y="625" width="1" height="10"/>
<rect x="977" y="625" width="1" height="10"/>
<rect x="985" y="625" width="1" height="10"/>
<rect x="993" y="624" width="1" height="11"/>
<rect x="1001" y="620" width="1" height="15"/>
<rect x="1009" y="618" width="1" height="17"/>
<rect x="1017" y="617" width="1" height="18"/>
<rect x="1025" y="615" width="1" height="20"/>
<rect x="1033" y="613" width="1" height="22"/>
<rect x="1041" y="610" width="1" height="25"/>
<rect x="1049" y="606" width="1" height="29"/>
<rect x="1057" y="603" width="1" height="32"/>
<rect x="1065" y="597" width="1" height="38"/>
<rect x="1073" y="594" width="1" height="41"/>
<rect x="1081" y="591" width="1" height="44"/>
<rect x="1089" y="590" width="1" height="45"/>
<rect x="1097" y="590" width="1" height="45"/>
<rect x="1105" y="589" width="1" height="46"/>
<rect x="1113" y="589" width="1" height="46"/>
<rect x="1121" y="591" width="1" height="44"/>
<rect x="1129" y="594" width="1" height="41"/>
<rect x="1137" y="595" width="1" height="40"/>
<rect x="1145" y="598" width="1" height="37"/>
<rect x="1153" y="600" width="1" height="35"/>
<rect x="1161" y="602" width="1" height="33"/>
<rect x="1169" y="603" width="1" height="32"/>
<rect x="1177" y="604" width="1" height="31"/>
<rect x="1185" y="605" width="1" height="30"/>
<rect x="1193" y="603" width="1" height="32"/>
<rect x="1201" y="605" width="1" height="30"/>
<rect x="1209" y="604" width="1" height="31"/>
<rect x="1217" y="607" width="1" height="28"/>
<rect x="1225" y="609" width="1" height="26"/>
<rect x="1233" y="612" width="1" height="23"/>
<rect x="1241" y="613" width="1" height="22"/>
<rect x="1249" y="612" width="1" height="23"/>
<rect x="1257" y="612" width="1" height="23"/>
<rect x="1265" y="607" width="1" height="28"/>
<rect x="1273" y="606" width="1" height="29"/>
<rect x="1281" y="604" width="1" height="31"/>
<rect x="1289" y="602" width="1" height="33"/>
<rect x="1297" y="602" width="1" height="33"/>
<rect x="1305" y="604" width="1" height="31"/>
<rect x="1313" y="606" width="1" height="29"/>
<rect x="1321" y="609" width="1" height="26"/>
<rect x="1329" y="613" width="1" height="22"/>
<rect x="1337" y="622" width="1" height="13"/>
<rect x="1345" y="628" width="1" height="7"/>
<rect x="1353" y="634" width="1" height="1"/>
<rect x="1361" y="634" width="1" height="9"/>
<rect x="1369" y="634" width="1" height="14"/>
<rect x="1377" y="634" width="1" height="18"/>
<rect x="1385" y="634" width="1" height="19"/>
<rect x="1393" y="634" width="1" height="18"/>
<rect x="1401" y="634" width="1" height="16"/>
<rect x="1409" y="634" width="1" height="14"/>
<rect x="1417" y="634" width="1" height="15"/>
<rect x="1425" y="634" width="1" height="18"/>
<rect x="1433" y="634" width="1" height="21"/>
<rect x="1441" y="634" width="1" height="25"/>
<rect x="1449" y="634" width="1" height="26"/>
<rect x="1457" y="634" width="1" height="27"/>
<rect x="1465" y="634" width="1" height="27"/>
<rect x="1473" y="634" width="1" height="23"/>
<rect x="1481" y="634" width="1" height="20"/>
<rect x="1489" y="634" width="1" height="16"/>
<rect x="1497" y="634" width="1" height="12"/>
</g>
<polyline points="0.0,639.9 20.0,641.5 40.0,643.5 56.0,645.3 72.0,646.3 84.0,645.3 100.0,642.9 120.0,643.3 132.0,644.9 143.7,650.9 155.7,660.9 169.7,679.8 183.7,698.8 195.6,713.8 207.6,721.7 217.6,725.3 225.6,724.0 233.6,718.8 247.6,705.8 263.5,687.8 279.5,671.8 291.5,661.9 307.4,651.9 323.4,643.9 339.4,637.9 350.0,634.4 363.0,628.0 378.0,625.5 403.5,626.3 416.0,628.0 434.0,630.6 454.0,630.0 477.0,628.6 500.0,628.6 517.7,630.6 530.4,633.2 543.0,636.5 561.0,642.0 573.6,645.3 588.8,647.9 604.0,650.4 619.0,650.4 634.5,648.9 649.7,645.3 662.4,642.8 675.0,637.0 687.8,631.9 705.6,621.7 720.8,614.1 736.0,609.0 751.3,607.3 764.0,607.3 771.6,608.5 780.0,609.6 795.4,616.7 810.6,620.5 825.9,625.6 846.0,632.7 866.5,637.0 886.8,638.3 907.0,638.3 922.3,635.0 937.6,631.5 952.8,628.2 973.0,624.9 993.4,623.6 1011.0,621.8 1029.0,620.0 1044.0,616.7 1056.9,613.4 1069.6,609.1 1084.8,602.3 1100.0,597.2 1112.7,593.4 1125.4,591.3 1145.7,591.3 1161.0,593.4 1176.2,596.4 1191.4,599.5 1200.0,601.5 1220.0,603.3 1233.0,606.0 1250.8,607.8 1289.0,608.4 1301.5,606.6 1314.0,605.3 1332.0,605.3 1339.6,607.8 1347.0,609.6 1357.4,615.5 1372.6,624.9 1385.3,633.2 1400.5,642.1 1413.0,648.0 1426.0,651.5 1441.0,653.5 1453.9,654.8 1469.0,657.3 1497.0,657.3" fill="none" stroke="#ff0000" stroke-width="1" stroke-dasharray="3 3"/>
</g>
<g clip-path="url(#c3)">
<line x1="-1" y1="787.5" x2="1686" y2="787.5" stroke="#c0c0c0" stroke-width="1" stroke-dasharray="3 3"/>
<line x1="-1" y1="838.5" x2="1686" y2="838.5" stroke="#c0c0c0" stroke-width="1" stroke-dasharray="3 3"/>
<line x1="-1" y1="899.5" x2="1686" y2="899.5" stroke="#c0c0c0" stroke-width="1" stroke-dasharray="3 3"/>
<polyline points="1.5,837.3 9.5,849.2 17.5,852.5 25.5,862.7 33.5,859.4 41.5,863.4 49.5,853.8 57.5,846.2 65.5,836.5 73.5,828.4 81.5,820.3 89.5,823.3 97.5,843.6 105.5,851.2 113.5,869.0 121.5,881.2 129.5,871.5 137.5,877.0 145.5,881.7 153.5,893.9 161.5,897.4 169.5,890.6 177.5,886.3 185.5,886.3 193.5,870.3 201.5,866.5 209.5,845.7 217.5,831.4 225.5,832.2 233.5,836.5 241.5,835.2 249.5,836.5 257.5,835.2 265.5,842.4 273.5,845.4 281.5,844.4 289.5,838.0 297.5,834.0 305.5,830.4 313.5,830.2 321.5,826.4 329.5,819.5 337.5,827.9 345.5,831.4 353.5,831.4 361.5,831.4 369.5,834.7 377.5,847.4 385.5,845.4 393.5,842.4 401.5,842.4 409.5,841.1 417.5,835.5 425.5,834.0 433.5,830.4 441.5,819.5 449.5,830.9 457.5,834.2 465.5,836.5 473.5,836.5 481.5,849.2 489.5,843.1 497.5,839.0 505.5,838.0 513.5,847.4 521.5,856.3 529.5,857.6 537.5,857.6 545.5,868.2 553.5,870.3 561.5,852.5 569.5,846.2 577.5,847.9 585.5,850.0 593.5,855.6 601.5,853.3 609.5,850.5 617.5,833.5 625.5,841.6 633.5,836.0 641.5,834.2 649.5,832.2 657.5,817.7 665.5,809.4 673.5,810.6 681.5,808.1 689.5,803.8 697.5,800.5 705.5,799.2 713.5,803.0 721.5,803.0 729.5,825.9 737.5,837.3 745.5,835.5 753.5,822.0 761.5,828.9 769.5,833.0 777.5,846.2 785.5,853.3 793.5,854.5 801.5,836.5 809.5,834.2 817.5,845.7 825.5,844.1 833.5,851.2 841.5,852.5 849.5,854.5 857.5,845.7 865.5,836.5 873.5,836.5 881.5,835.5 889.5,835.5 897.5,832.2 905.5,827.9 913.5,819.0 921.5,820.3 929.5,817.2 937.5,818.2 945.5,831.4 953.5,829.7 961.5,826.4 969.5,831.4 977.5,830.4 985.5,830.4 993.5,817.5 1001.5,809.4 1009.5,810.6 1017.5,809.4 1025.5,803.5 1033.5,802.2 1041.5,794.6 1049.5,791.0 1057.5,787.3 1065.5,780.2 1073.5,783.2 1081.5,784.5 1089.5,789.0 1097.5,789.5 1105.5,786.5 1113.5,785.2 1121.5,807.6 1129.5,807.6 1137.5,804.3 1145.5,810.1 1153.5,812.6 1161.5,809.4 1169.5,806.3 1177.5,804.3 1185.5,804.3 1193.5,789.0 1201.5,820.3 1209.5,810.6 1217.5,829.7 1225.5,829.7 1233.5,832.7 1241.5,823.8 1249.5,816.5 1257.5,819.5 1265.5,807.6 1273.5,806.5 1281.5,806.5 1289.5,803.0 1297.5,811.9 1305.5,825.3 1313.5,822.0 1321.5,828.4 1329.5,839.0 1337.5,859.4 1345.5,855.0 1353.5,868.2 1361.5,869.8 1369.5,867.7 1377.5,863.4 1385.5,858.9 1393.5,851.2 1401.5,846.2 1409.5,851.2 1417.5,850.0 1425.5,858.9 1433.5,866.0 1441.5,868.5 1449.5,861.9 1457.5,864.4 1465.5,860.1 1473.5,844.4 1481.5,845.4 1489.5,838.5 1497.5,841.1" fill="none" stroke="#1e90ff" stroke-width="1"/>
</g>
</svg>
<div class="cn">多空转折点</div>
<div class="ax" style="left:1693px;top:41px;">1.35040</div>
<div class="ax" style="left:1693px;top:74px;">1.33680</div>
<div class="ax" style="left:1693px;top:107px;">1.32360</div>
<div class="ax" style="left:1693px;top:173px;">1.29680</div>
<div class="ax" style="left:1693px;top:206px;">1.28360</div>
<div class="ax" style="left:1693px;top:239px;">1.27000</div>
<div class="ax" style="left:1693px;top:272px;">1.25680</div>
<div class="ax" style="left:1693px;top:305px;">1.24360</div>
<div class="ax" style="left:1693px;top:338px;">1.23000</div>
<div class="ax" style="left:1693px;top:371px;">1.21680</div>
<div class="ax" style="left:1693px;top:404px;">1.20320</div>
<div class="ax" style="left:1693px;top:437px;">1.19000</div>
<div class="ax" style="left:1693px;top:470px;">1.17680</div>
<div class="ax" style="left:1693px;top:503px;">1.16320</div>
<div class="ax" style="left:1693px;top:536px;">1.15000</div>
<div class="ax" style="left:1693px;top:569px;">1.13680</div>
<div class="ax" style="left:1690px;top:582px;">0.017833</div>
<div class="ax" style="left:1690px;top:629px;">0.00</div>
<div class="ax" style="left:1688px;top:737px;">-0.038559</div>
<div class="ax" style="left:1690px;top:754px;">100</div>
<div class="ax" style="left:1690px;top:782px;">80</div>
<div class="ax" style="left:1690px;top:833px;">50</div>
<div class="ax" style="left:1690px;top:894px;">15</div>
<div class="ax" style="left:1690px;top:914px;">0</div>
<div class="pb" style="top:140px;background:#ff4500"><span>1.30964</span></div>
<div class="pb" style="top:162px;background:#ff0000"><span>1.30076</span></div>
<div class="pb" style="top:193px;background:#000"><span>1.28837</span></div>
<div class="pb" style="top:201px;background:#32cd32"><span>1.28501</span></div>
<div class="pb" style="top:221px;background:#0000ff"><span>1.27693</span></div>
<div class="pb" style="top:236px;background:#0000ff"><span>1.27087</span></div>
<div class="ax" style="left:-7px;top:929px;">24 Feb 2020</div>
<div class="ax" style="left:57px;top:929px;">4 Mar 2020</div>
<div class="ax" style="left:121px;top:929px;">13 Mar 2020</div>
<div class="ax" style="left:185px;top:929px;">23 Mar 2020</div>
<div class="ax" style="left:249px;top:929px;">1 Apr 2020</div>
<div class="ax" style="left:313px;top:929px;">12 Apr 2020</div>
<div class="ax" style="left:377px;top:929px;">21 Apr 2020</div>
<div class="ax" style="left:441px;top:929px;">30 Apr 2020</div>
<div class="ax" style="left:505px;top:929px;">10 May 2020</div>
<div class="ax" style="left:569px;top:929px;">19 May 2020</div>
<div class="ax" style="left:633px;top:929px;">28 May 2020</div>
<div class="ax" style="left:697px;top:929px;">7 Jun 2020</div>
<div class="ax" style="left:761px;top:929px;">16 Jun 2020</div>
<div class="ax" style="left:825px;top:929px;">25 Jun 2020</div>
<div class="ax" style="left:889px;top:929px;">5 Jul 2020</div>
<div class="ax" style="left:953px;top:929px;">14 Jul 2020</div>
<div class="ax" style="left:1017px;top:929px;">23 Jul 2020</div>
<div class="ax" style="left:1081px;top:929px;">2 Aug 2020</div>
<div class="ax" style="left:1145px;top:929px;">11 Aug 2020</div>
<div class="ax" style="left:1209px;top:929px;">20 Aug 2020</div>
<div class="ax" style="left:1273px;top:929px;">30 Aug 2020</div>
<div class="ax" style="left:1337px;top:929px;">8 Sep 2020</div>
<div class="ax" style="left:1401px;top:929px;">17 Sep 2020</div>
<div class="ax" style="left:1465px;top:929px;">27 Sep 2020</div>
<div class="ax info" style="left:8px;top:27px;">GBPUSD-,Daily&nbsp; 1.29157 1.29774 1.28191 1.28837</div>
<div class="ax info" style="left:-3px;top:583px;">MACD(12,26,9) -0.005515 -0.007898</div>
<div class="ax" style="left:-2px;top:755px;">RSI(14) 47.6984</div>
<div id="pn">
<div style="left:47px;top:0;width:118px;height:24px;background:#fff"></div>
<div class="sb" style="left:0;width:47px;border-right:1px solid #cf2424"><span style="left:8px;transform:scaleX(0.88)">SELL</span></div>
<div style="left:0;top:23px;width:44px;height:1px;background:#a80a0a"></div>
<div style="left:0;top:24px;width:44px;height:1px;background:#f06a6a;z-index:2"></div>
<div class="sb" style="left:164px;width:51px;border-left:1px solid #cf2424;border-right:1px solid #cf2424"><span style="left:12px;transform:scaleX(0.86)">BUY</span></div>
<div style="left:167px;top:23px;width:44px;height:1px;background:#a80a0a"></div>
<div style="left:167px;top:24px;width:44px;height:1px;background:#f06a6a;z-index:2"></div>
<div class="pp" style="left:0;width:105px"><span class="s" style="left:16px;top:21px">1.28</span><span class="b" style="left:43px;top:3px">83</span><span class="u" style="left:83px;top:6px">7</span></div>
<div class="pp" style="left:107px;width:108px;border-left:1px solid #c01c1c"><span class="s" style="left:19px;top:21px">1.28</span><span class="b" style="left:47px;top:3px">86</span><span class="u" style="left:87px;top:6px">3</span></div>
<div class="vb"><div class="vbtn" style="left:1px"></div><div style="left:21px;top:0;width:1px;height:20px;background:#a2a6ae"></div>
<div class="vbtn" style="left:89px"></div><div style="left:88px;top:0;width:1px;height:20px;background:#a2a6ae"></div>
<svg width="6" height="4" style="position:absolute;left:7.5px;top:8.5px"><polygon points="0,0 5.6,0 2.8,3.2" fill="#4a62c0"/></svg>
<svg width="6" height="4" style="position:absolute;left:95.5px;top:8px"><polygon points="0,3.4 5.6,3.4 2.8,0.2" fill="#4a62c0"/></svg>
<div class="vt">1.00</div></div>
</div>
<div id="tb"><svg width="1733" height="20" viewBox="0 0 1733 20" style="position:absolute;left:0;top:0"><rect x="-3" y="1.5" width="12" height="13" fill="#fff" stroke="#3a78d0" stroke-width="1.4"/><path d="M-2 4.5H8M-2 6.5H8M-2 8.5H8" stroke="#c5d5f5" stroke-width="1"/><rect x="22.5" y="0.5" width="12" height="13" fill="#f4f1ea" stroke="#9a9a9a" stroke-width="1"/><path d="M25.5 3V9M27.5 5V11M30.5 2V8" stroke="#707070" stroke-width="1"/><line x1="33.5" y1="12" x2="38.5" y2="16.5" stroke="#c89a20" stroke-width="2.4" stroke-linecap="round"/><circle cx="30" cy="8.5" r="4.8" fill="#cfe0f6" fill-opacity=".85" stroke="#5a8ad8" stroke-width="1.3"/><rect x="47" y="0" width="1" height="18" fill="#a0a0a0"/><path d="M57.5 0.5H65.5L69 4V13.5H57.5Z" fill="#fff" stroke="#808080" stroke-width="1"/><path d="M59.5 3H63M59.5 6.5H66M59.5 9H64" stroke="#909090" stroke-width="1"/><path d="M65.0 6.5h3.6v3.7h3.7v3.6h-3.7v3.7h-3.6v-3.7h-3.7v-3.6h3.7z" fill="#1fc01f" stroke="#0a8a0a" stroke-width="0.9"/><path d="M124 9.5L132 1L140.5 6.5L133.5 15.5Z" fill="#e3b12a" stroke="#9c7410" stroke-width="1"/><path d="M126 9.3L132.3 2.8L138 6.5" fill="none" stroke="#fbe38a" stroke-width="1.3"/><path d="M125 11L133.5 16L140 8" fill="none" stroke="#b88a18" stroke-width="1"/><rect x="154.5" y="0" width="10" height="9" fill="#4a90e8" stroke="#2a60c0" stroke-width="1"/><path d="M157 3H162M157 5.5H162" stroke="#d5e6ff" stroke-width="1"/><path d="M155 15.5a3 3 0 0 1 0.3-6a4 4 0 0 1 7.2-1.2a3.4 3.4 0 0 1 4.7 3.2a2.2 2.2 0 0 1-1 4z" fill="#eef4fc" stroke="#6088c8" stroke-width="1"/><g fill="none" stroke-width="1.3"><path d="M188 0.2A7.3 7.3 0 0 0 188 14.8" stroke="#6a9ae0"/><path d="M188 3A4.5 4.5 0 0 0 188 12" stroke="#4a7ad0"/><path d="M188 0.2A7.3 7.3 0 0 1 192 13.6" stroke="#6cc07a"/><path d="M188 3A4.5 4.5 0 0 1 191 10.8" stroke="#48a858"/></g><circle cx="188" cy="7" r="1.6" fill="#2a58c0"/><path d="M188.7 7V15.5" stroke="#22a83a" stroke-width="1.5"/><path d="M208 8L214 15.5L219 15.5L222.5 8Z" fill="#f6d548" stroke="#c8a020" stroke-width=".8"/><ellipse cx="215" cy="5.5" rx="8" ry="2.6" fill="#5a9ae0" stroke="#3a70c0" stroke-width=".8"/><path d="M211 4.5Q215 -4 219 4.5Z" fill="#6aa8ea" stroke="#3a70c0" stroke-width=".8"/><circle cx="219.5" cy="11.5" r="4" fill="#e02418"/><rect x="217.7" y="9.7" width="3.6" height="3.6" fill="#fff"/><rect x="283" y="0" width="1" height="18" fill="#a0a0a0"/><rect x="284" y="0" width="1" height="18" fill="#fff"/><rect x="287" y="1" width="3" height="1" fill="#a6a6a6"/><rect x="287" y="3" width="3" height="1" fill="#a6a6a6"/><rect x="287" y="5" width="3" height="1" fill="#a6a6a6"/><rect x="287" y="7" width="3" height="1" fill="#a6a6a6"/><rect x="287" y="9" width="3" height="1" fill="#a6a6a6"/><rect x="287" y="11" width="3" height="1" fill="#a6a6a6"/><rect x="287" y="13" width="3" height="1" fill="#a6a6a6"/><rect x="287" y="15" width="3" height="1" fill="#a6a6a6"/><rect x="287" y="17" width="3" height="1" fill="#a6a6a6"/><g stroke="#505050" stroke-width="1.2" fill="none"><path d="M301.5 2V15.5M299.0 13.5H312.5"/><path d="M299.5 4.5L301.5 2L303.5 4.5M310.5 11.5L312.5 13.5L310.5 15.5"/></g><path d="M308.5 3.5V11M308.5 4.5H310.5M306.5 10H308.5" stroke="#1a9a2a" stroke-width="1.3" fill="none"/><rect x="321" y="0" width="1" height="18" fill="#a0a0a0"/><rect x="322" y="0" width="25" height="18" fill="#f9f9f9"/><g stroke="#505050" stroke-width="1.2" fill="none"><path d="M329.5 2V15.5M327.0 13.5H340.5"/><path d="M327.5 4.5L329.5 2L331.5 4.5M338.5 11.5L340.5 13.5L338.5 15.5"/></g><path d="M335.5 0V11.5" stroke="#0c7a18" stroke-width="1.2"/><rect x="333.3" y="2.5" width="4.6" height="7" fill="#3ad04a" stroke="#0c7a18" stroke-width="1"/><g stroke="#505050" stroke-width="1.2" fill="none"><path d="M357.5 2V15.5M355.0 13.5H368.5"/><path d="M355.5 4.5L357.5 2L359.5 4.5M366.5 11.5L368.5 13.5L366.5 15.5"/></g><path d="M356.5 10.5Q360 5 362.5 5T367.8 9" stroke="#2aa03a" stroke-width="1.3" fill="none"/><rect x="378" y="0" width="1" height="18" fill="#a0a0a0"/><line x1="397.1" y1="10.4" x2="401.0" y2="14.3" stroke="#a87410" stroke-width="3.4" stroke-linecap="butt"/><line x1="397.1" y1="10.4" x2="400.8" y2="14.1" stroke="#e6c636" stroke-width="2" stroke-linecap="butt"/><circle cx="392.8" cy="6" r="5.3" fill="#d9f0fb" stroke="#2a72c4" stroke-width="1.4"/><path d="M389.5 6H396.1M392.8 2.7V9.3" stroke="#3a8abc" stroke-width="2"/><line x1="425.7" y1="10.4" x2="429.59999999999997" y2="14.3" stroke="#a87410" stroke-width="3.4" stroke-linecap="butt"/><line x1="425.7" y1="10.4" x2="429.4" y2="14.1" stroke="#e6c636" stroke-width="2" stroke-linecap="butt"/><circle cx="421.4" cy="6" r="5.3" fill="#d9f0fb" stroke="#2a72c4" stroke-width="1.4"/><path d="M418.09999999999997 6H424.7" stroke="#3a8abc" stroke-width="2"/><rect x="443.4" y="-0.2" width="7.4" height="7.4" fill="#38a818" stroke="#2a8c10" stroke-width=".8"/><path d="M444.79999999999995 6.3999999999999995V2.5999999999999996H449.4V6.3999999999999995H448.4V5.3999999999999995H445.79999999999995V6.3999999999999995Z" fill="#fff"/><rect x="451.2" y="-0.2" width="7.4" height="7.4" fill="#2458d8" stroke="#0c38b8" stroke-width=".8"/><path d="M452.59999999999997 6.3999999999999995V2.5999999999999996H457.2V6.3999999999999995H456.2V5.3999999999999995H453.59999999999997V6.3999999999999995Z" fill="#fff"/><rect x="443.4" y="8.1" width="7.4" height="7.4" fill="#2458d8" stroke="#0c38b8" stroke-width=".8"/><path d="M444.79999999999995 14.7V10.899999999999999H449.4V14.7H448.4V13.7H445.79999999999995V14.7Z" fill="#fff"/><rect x="451.2" y="8.1" width="7.4" height="7.4" fill="#38a818" stroke="#2a8c10" stroke-width=".8"/><path d="M452.59999999999997 14.7V10.899999999999999H457.2V14.7H456.2V13.7H453.59999999999997V14.7Z" fill="#fff"/><rect x="468" y="0" width="1" height="18" fill="#a0a0a0"/><rect x="473" y="0" width="1" height="18" fill="#a0a0a0"/><rect x="474" y="0" width="24" height="18" fill="#f9f9f9"/><g stroke="#505050" stroke-width="1.2" fill="none"><path d="M481.7 2V15.5M479.2 13.5H492.7"/><path d="M479.7 4.5L481.7 2L483.7 4.5M490.7 11.5L492.7 13.5L490.7 15.5"/></g><path d="M486.3 4L490.5 7.5L486.3 11Z" fill="#8ae08a" stroke="#1a9a2a" stroke-width="1.1"/><rect x="501" y="0" width="1" height="18" fill="#a0a0a0"/><rect x="502" y="0" width="24" height="18" fill="#f9f9f9"/><g stroke="#505050" stroke-width="1.2" fill="none"><path d="M509.5 2V15.5M507.0 13.5H520.5"/><path d="M507.5 4.5L509.5 2L511.5 4.5M518.5 11.5L520.5 13.5L518.5 15.5"/></g><path d="M515.7 2V11.5" stroke="#2a68b8" stroke-width="1.3"/><path d="M521.5 7.5H517.5M519.5 5.3L517.2 7.5L519.5 9.7" stroke="#d83a10" stroke-width="1.2" fill="none"/><rect x="530" y="0" width="1" height="18" fill="#a0a0a0"/><path d="M540.5 0.8H548.5L552 4.3V13H540.5Z" fill="#fff" stroke="#808080" stroke-width="1"/><path d="M545.5 3.2Q543.5 3 543.5 5V10.5M542.3 6.5H545" stroke="#606060" stroke-width="1" fill="none"/><path d="M548.2 6.5h3.6v3.7h3.7v3.6h-3.7v3.7h-3.6v-3.7h-3.7v-3.6h3.7z" fill="#1fc01f" stroke="#0a8a0a" stroke-width="0.9"/><polygon points="561.5,7 567.5,7 564.5,10" fill="#000"/><circle cx="586" cy="7.6" r="6.8" fill="#fff" stroke="#1f62cc" stroke-width="2.5"/><circle cx="586" cy="7.6" r="4.6" fill="none" stroke="#c8ccd4" stroke-width="1" stroke-dasharray="0.8 1.6"/><path d="M586 4V8.3H588.8" stroke="#202020" stroke-width="1.3" fill="none"/><polygon points="600.5,7 606.5,7 603.5,10" fill="#000"/><rect x="617.5" y="1.5" width="15" height="13" fill="#fff" stroke="#4a82d4" stroke-width="1"/><rect x="618" y="2" width="14" height="2" fill="#6ea4ee"/><path d="M618 8.7H632" stroke="#9fbde8" stroke-width="1"/><path d="M619.5 7.3L621.5 6.8L623 6L625 6.6L627 5.6L629 6.3L631 5.4" stroke="#a82410" stroke-width="1.2" fill="none"/><path d="M619.5 12.3L621.5 11.5L623 12L625 10.8L626.5 11.8L628.5 10.2L630.5 12" stroke="#159a25" stroke-width="1.2" fill="none"/><polygon points="639.5,7 645.5,7 642.5,10" fill="#000"/><rect x="651" y="0" width="1" height="18" fill="#a0a0a0"/><rect x="652" y="0" width="1" height="18" fill="#fff"/><rect x="655" y="1" width="3" height="1" fill="#a6a6a6"/><rect x="655" y="3" width="3" height="1" fill="#a6a6a6"/><rect x="655" y="5" width="3" height="1" fill="#a6a6a6"/><rect x="655" y="7" width="3" height="1" fill="#a6a6a6"/><rect x="655" y="9" width="3" height="1" fill="#a6a6a6"/><rect x="655" y="11" width="3" height="1" fill="#a6a6a6"/><rect x="655" y="13" width="3" height="1" fill="#a6a6a6"/><rect x="655" y="15" width="3" height="1" fill="#a6a6a6"/><rect x="655" y="17" width="3" height="1" fill="#a6a6a6"/><rect x="662" y="0" width="25" height="18" fill="#f9f9f9"/><path d="M669 0.5V13L672 10.3L674.3 15.3L676.2 14.4L674 9.6L678 9.4Z" fill="#383838"/><path d="M701.5 1V16M694 8.5H699.5M703.5 8.5H709" stroke="#505050" stroke-width="1.1"/><rect x="718" y="0" width="1" height="18" fill="#a0a0a0"/><path d="M735.5 2V15M758 8.5H770M786 15L798 2.7" stroke="#505050" stroke-width="1.1" fill="none"/><g stroke="#505050" stroke-width="1" fill="none"><path d="M812 11L824 3M813 14L826 5.5M815 12.5L817.5 4M819 11L822 2M823 8L825 0"/></g><text x="823" y="16.5" font-family="Liberation Sans, sans-serif" font-size="6.5" font-weight="700" fill="#404040">E</text><g stroke="#606060" stroke-width="1" stroke-dasharray="1 1"><path d="M841 1.5H854M841 5.5H854M841 9.5H854M841 12.5H849"/></g><text x="850.5" y="16.8" font-family="Liberation Sans, sans-serif" font-size="6.5" font-weight="700" fill="#404040">F</text><text x="870.8" y="13" font-family="Liberation Sans, sans-serif" font-size="14" font-weight="700" fill="#585858">A</text><rect x="898" y="1.5" width="12" height="13" fill="none" stroke="#606060" stroke-width="1" stroke-dasharray="1 1"/><text x="900" y="12.5" font-family="Liberation Sans, sans-serif" font-size="12" font-weight="700" fill="#585858">T</text><path d="M928 1.5L931 4.5H925Z M936 14.5L933 11.5H939Z" fill="#404040"/><path d="M926 8L929.5 11L935 5" stroke="#404040" stroke-width="1.6" fill="none"/><polygon points="945.5,7 951.5,7 948.5,10" fill="#000"/><rect x="957" y="0" width="1" height="18" fill="#a0a0a0"/><rect x="958" y="0" width="1" height="18" fill="#fff"/><rect x="961" y="1" width="3" height="1" fill="#a6a6a6"/><rect x="961" y="3" width="3" height="1" fill="#a6a6a6"/><rect x="961" y="5" width="3" height="1" fill="#a6a6a6"/><rect x="961" y="7" width="3" height="1" fill="#a6a6a6"/><rect x="961" y="9" width="3" height="1" fill="#a6a6a6"/><rect x="961" y="11" width="3" height="1" fill="#a6a6a6"/><rect x="961" y="13" width="3" height="1" fill="#a6a6a6"/><rect x="961" y="15" width="3" height="1" fill="#a6a6a6"/><rect x="961" y="17" width="3" height="1" fill="#a6a6a6"/><rect x="1135" y="0" width="1" height="18" fill="#a0a0a0"/><rect x="1136" y="0" width="24" height="18" fill="#f9f9f9"/><rect x="1219" y="0" width="1" height="18" fill="#a0a0a0"/><line x1="1681" y1="12.5" x2="1685.5" y2="8" stroke="#2a58c8" stroke-width="2.4" stroke-linecap="round"/><circle cx="1688.5" cy="5.5" r="3.8" fill="#f4f8ff" stroke="#3a68d8" stroke-width="1.4"/><g fill="#f3f3f6" stroke="#8e8e92" stroke-width="1"><path d="M1723.5 9.2L1725.2 11.6L1721.5 9.8Z" fill="#8e8e92"/><ellipse cx="1721.3" cy="4.9" rx="6.4" ry="5"/><path d="M1710.8 12.4L1709.6 14.8L1713 12.9Z" fill="#8e8e92"/><ellipse cx="1712.4" cy="9" rx="5" ry="3.9"/></g><ellipse cx="1721.6" cy="6.2" rx="3.6" ry="1.8" fill="#dcdce6"/><ellipse cx="1712.6" cy="9.8" rx="2.8" ry="1.4" fill="#dcdce6"/></svg><div class="t" style="left:75.5px">新订单</div><div class="t" style="left:228px">自动交易</div><div class="p" style="left:972.5px">M1</div><div class="p" style="left:1000px">M5</div><div class="p" style="left:1026px">M15</div><div class="p" style="left:1054.5px">M30</div><div class="p" style="left:1085px">H1</div><div class="p" style="left:1112.5px">H4</div><div class="p" style="left:1141px">D1</div><div class="p" style="left:1168.5px">W1</div><div class="p" style="left:1195.5px">MN</div><div class="ln0"></div><div class="ln1"></div><div class="ln2"></div></div>
<div class="redge"></div>
</div></body></html>
